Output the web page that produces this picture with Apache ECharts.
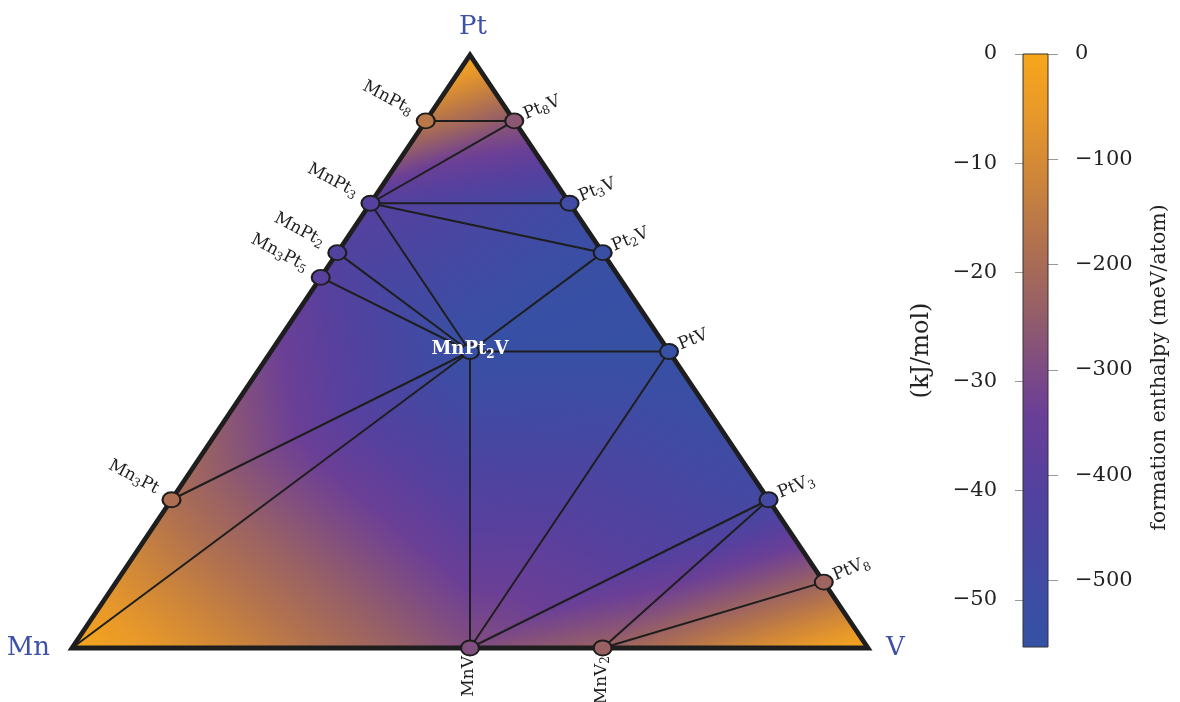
<!DOCTYPE html>
<html>
<head>
<meta charset="utf-8">
<title>Mn–Pt–V formation enthalpy</title>
<script src="https://cdn.jsdelivr.net/npm/echarts@6/dist/echarts.min.js"></script>
<style>
  html, body { margin: 0; padding: 0; background: #fff; }
  #chart { width: 1180px; height: 702px; }
</style>
</head>
<body>
<div id="chart"></div>
<script>
// ---- Ternary system: corner elements (pure elements sit at zero enthalpy) ----
const elements = ['Mn', 'Pt', 'V'];
const elementPt = [0, 1, 0];
const elementV = [0, 0, 1];

// ---- Stable compounds on the convex hull ----
const compounds = ['MnPt8', 'Pt8V', 'MnPt3', 'Pt3V', 'MnPt2', 'Mn3Pt5', 'Pt2V',
                   'MnPt2V', 'PtV', 'Mn3Pt', 'PtV3', 'PtV8', 'MnV', 'MnV2'];
const compoundLabels = ['MnPt₈', 'Pt₈V', 'MnPt₃', 'Pt₃V', 'MnPt₂', 'Mn₃Pt₅', 'Pt₂V',
                        'MnPt₂V', 'PtV', 'Mn₃Pt', 'PtV₃', 'PtV₈', 'MnV', 'MnV₂'];
// atomic fractions of Pt and V (Mn is the remainder)
const compoundPt = [8/9, 8/9, 3/4, 3/4, 2/3, 5/8, 2/3, 1/2, 1/2, 1/4, 1/4, 1/9, 0, 0];
const compoundV  = [0, 1/9, 0, 1/4, 0, 0, 1/3, 1/4, 1/2, 0, 3/4, 8/9, 1/2, 2/3];
// formation enthalpy, meV/atom
const compoundEnthalpy = [-160, -265, -405, -500, -420, -395, -540, -545, -555,
                          -190, -485, -225, -290, -235];

// ---- Hull facets (triangulation of the composition triangle) ----
const facets = [
  ['Pt', 'MnPt8', 'Pt8V'],
  ['MnPt8', 'Pt8V', 'MnPt3'],
  ['Pt8V', 'Pt3V', 'MnPt3'],
  ['MnPt3', 'Pt3V', 'Pt2V'],
  ['MnPt3', 'Pt2V', 'MnPt2V'],
  ['MnPt3', 'MnPt2V', 'MnPt2'],
  ['MnPt2', 'MnPt2V', 'Mn3Pt5'],
  ['Mn3Pt5', 'MnPt2V', 'Mn3Pt'],
  ['Mn3Pt', 'MnPt2V', 'Mn'],
  ['Mn', 'MnPt2V', 'MnV'],
  ['MnPt2V', 'Pt2V', 'PtV'],
  ['MnPt2V', 'PtV', 'MnV'],
  ['MnV', 'PtV', 'PtV3'],
  ['MnV', 'PtV3', 'MnV2'],
  ['MnV2', 'PtV3', 'PtV8'],
  ['MnV2', 'PtV8', 'V']
];

// ---- Tie lines between coexisting phases ----
const tieLines = [
  ['MnPt8', 'Pt8V'], ['Pt8V', 'MnPt3'], ['MnPt3', 'Pt3V'], ['MnPt3', 'Pt2V'],
  ['MnPt3', 'MnPt2V'], ['MnPt2', 'MnPt2V'], ['Mn3Pt5', 'MnPt2V'], ['Mn3Pt', 'MnPt2V'],
  ['Mn', 'MnPt2V'], ['MnV', 'MnPt2V'], ['Pt2V', 'MnPt2V'], ['PtV', 'MnPt2V'],
  ['PtV', 'MnV'], ['PtV3', 'MnV'], ['PtV3', 'MnV2'], ['PtV8', 'MnV2']
];

// ---- Colour scale ----
const scaleMin = -563;            // meV/atom at the bottom of the colour bar
const KJ_PER_MEV = 0.0964853;     // 1 meV/atom in kJ/mol
const meVTicks = [0, -100, -200, -300, -400, -500];
const kJTicks = [0, -10, -20, -30, -40, -50];
const cmapValues = [0, -60, -120, -180, -240, -300, -340, -400, -460, -520, -563];
const cmapColors = ['#f7a61b', '#e7982a', '#cd853a', '#b1714f', '#976066', '#7d4b84',
                    '#6b3f96', '#57409e', '#4946a1', '#3c4da4', '#3451a4'];

// ---------------------------------------------------------------------------
const SERIF = '"DejaVu Serif", "Liberation Serif", serif';
const INK = '#1e1e1e';

function hexToRgb(h) {
  const n = parseInt(h.slice(1), 16);
  return [(n >> 16) & 255, (n >> 8) & 255, n & 255];
}
const cmapRgb = cmapColors.map(hexToRgb);

function colorFor(value) {
  if (value >= cmapValues[0]) return cmapColors[0];
  for (let i = 1; i < cmapValues.length; i++) {
    if (value >= cmapValues[i]) {
      const a = cmapValues[i - 1], b = cmapValues[i];
      const t = (value - a) / (b - a);
      const c = cmapRgb[i - 1].map((v, k) => Math.round(v + (cmapRgb[i][k] - v) * t));
      return 'rgb(' + c.join(',') + ')';
    }
  }
  return cmapColors[cmapColors.length - 1];
}
const gradientStops = cmapValues.map((v, i) => ({ offset: v / scaleMin, color: cmapColors[i] }));

// ternary (Pt, V) -> cartesian (x along Mn–V edge, y towards Pt)
function toXY(pt, v) { return [v + pt / 2, pt]; }

// node table: elements + compounds
const nodes = {};
elements.forEach((name, i) => {
  nodes[name] = { xy: toXY(elementPt[i], elementV[i]), h: 0 };
});
compounds.forEach((name, i) => {
  nodes[name] = { xy: toXY(compoundPt[i], compoundV[i]), h: compoundEnthalpy[i] };
});

// ---- Series data ----
const facetData = facets.map(f => {
  const a = nodes[f[0]], b = nodes[f[1]], c = nodes[f[2]];
  return [a.xy[0], a.xy[1], b.xy[0], b.xy[1], c.xy[0], c.xy[1], a.h, b.h, c.h];
});
const tieData = tieLines.map(([p, q]) => [nodes[p].xy[0], nodes[p].xy[1], nodes[q].xy[0], nodes[q].xy[1]]);
const outline = elements.map(e => nodes[e].xy);
const pointData = compounds.map((name, i) => ({
  name: name,
  value: [nodes[name].xy[0], nodes[name].xy[1], compoundEnthalpy[i]],
  itemStyle: { color: colorFor(compoundEnthalpy[i]) }
}));

// label placement depends on which edge the compound sits on
function sideOf(i) {
  const pt = compoundPt[i], v = compoundV[i], mn = 1 - pt - v;
  if (v < 1e-9) return 'left';
  if (mn < 1e-9) return 'right';
  if (pt < 1e-9) return 'bottom';
  return 'center';
}
const labelData = compounds.map((name, i) => [nodes[name].xy[0], nodes[name].xy[1], i]);

// turn unicode subscript digits into rich-text subscript runs
const SUBS = '₀₁₂₃₄₅₆₇₈₉';
function richFormula(s) {
  let out = '';
  for (const ch of s) {
    const k = SUBS.indexOf(ch);
    out += k >= 0 ? '{s|' + k + '}' : '{m|' + ch.replace(/[{}|]/g, '') + '}';
  }
  return out;
}

// ---- Render helpers ----
function renderFacet(params, api) {
  const P = [0, 1, 2].map(k => api.coord([api.value(2 * k), api.value(2 * k + 1)]));
  const f = [api.value(6), api.value(7), api.value(8)];
  const d2 = [P[1][0] - P[0][0], P[1][1] - P[0][1]];
  const d3 = [P[2][0] - P[0][0], P[2][1] - P[0][1]];
  const df2 = f[1] - f[0], df3 = f[2] - f[0];
  const det = d2[0] * d3[1] - d2[1] * d3[0];
  const gx = (df2 * d3[1] - df3 * d2[1]) / det;
  const gy = (d2[0] * df3 - d3[0] * df2) / det;
  const g2 = gx * gx + gy * gy;
  let fill;
  if (g2 < 1e-12) {
    fill = colorFor(f[0]);
  } else {
    // the enthalpy is linear on a facet, so a linear gradient along its
    // gradient direction reproduces the colour map exactly
    const s0 = (0 - f[0]) / g2, s1 = (scaleMin - f[0]) / g2;
    fill = {
      type: 'linear', global: true,
      x: P[0][0] + s0 * gx, y: P[0][1] + s0 * gy,
      x2: P[0][0] + s1 * gx, y2: P[0][1] + s1 * gy,
      colorStops: gradientStops
    };
  }
  return {
    type: 'polygon', silent: true,
    shape: { points: P },
    style: { fill: fill, stroke: fill, lineWidth: 0.8 }
  };
}

function renderTie(params, api) {
  const a = api.coord([api.value(0), api.value(1)]);
  const b = api.coord([api.value(2), api.value(3)]);
  return {
    type: 'line', silent: true,
    shape: { x1: a[0], y1: a[1], x2: b[0], y2: b[1] },
    style: { stroke: INK, lineWidth: 2 }
  };
}

function renderOutline(params, api) {
  if (params.dataIndex !== 0) return null;
  const pts = outline.map(p => api.coord(p));
  return {
    type: 'polygon', silent: true,
    shape: { points: pts },
    style: { fill: 'none', stroke: INK, lineWidth: 4.8, lineJoin: 'miter', miterLimit: 10 }
  };
}

function labelStyle(i, color, size, weight) {
  return {
    text: richFormula(compoundLabels[i]),
    rich: {
      m: { fontFamily: SERIF, fontSize: size, fontWeight: weight, fill: color, lineHeight: size + 4, verticalAlign: 'middle' },
      s: { fontFamily: SERIF, fontSize: Math.round(size * 0.68), fontWeight: weight, fill: color,
           lineHeight: Math.round(size * 0.68), verticalAlign: 'bottom' }
    }
  };
}

function renderLabel(params, api) {
  const i = api.value(2);
  const p = api.coord([api.value(0), api.value(1)]);
  const side = sideOf(i);
  if (side === 'left') {
    return { type: 'text', silent: true, x: p[0] - 14, y: p[1] - 10, rotation: -28 * Math.PI / 180,
             style: Object.assign(labelStyle(i, INK, 17, 'normal'), { align: 'right', verticalAlign: 'middle' }) };
  }
  if (side === 'right') {
    return { type: 'text', silent: true, x: p[0] + 10, y: p[1] - 6, rotation: 22 * Math.PI / 180,
             style: Object.assign(labelStyle(i, INK, 17, 'normal'), { align: 'left', verticalAlign: 'middle' }) };
  }
  if (side === 'bottom') {
    return { type: 'text', silent: true, x: p[0] - 1, y: p[1] + 8, rotation: Math.PI / 2,
             style: Object.assign(labelStyle(i, INK, 17, 'normal'), { align: 'right', verticalAlign: 'middle' }) };
  }
  return { type: 'text', silent: true, x: p[0], y: p[1] - 2,
           style: Object.assign(labelStyle(i, '#ffffff', 18, 'bold'), { align: 'center', verticalAlign: 'middle' }) };
}

function renderCorner(params, api) {
  const i = params.dataIndex;
  const p = api.coord([api.value(0), api.value(1)]);
  const style = { text: elements[i], fontFamily: SERIF, fontSize: 26, fill: '#3e51a8' };
  if (elements[i] === 'Mn') {
    return { type: 'text', silent: true, x: p[0] - 22, y: p[1],
             style: Object.assign(style, { align: 'right', verticalAlign: 'middle' }) };
  }
  if (elements[i] === 'V') {
    return { type: 'text', silent: true, x: p[0] + 18, y: p[1],
             style: Object.assign(style, { align: 'left', verticalAlign: 'middle' }) };
  }
  return { type: 'text', silent: true, x: p[0] + 3, y: p[1] - 15,
           style: Object.assign(style, { align: 'center', verticalAlign: 'bottom' }) };
}

function renderColorbar(params, api) {
  const top = api.coord([0, 0]);
  const bot = api.coord([1, scaleMin]);
  return {
    type: 'rect', silent: true,
    shape: { x: top[0], y: top[1], width: bot[0] - top[0], height: bot[1] - top[1] },
    style: {
      fill: { type: 'linear', x: 0, y: 0, x2: 0, y2: 1, colorStops: gradientStops },
      stroke: '#333', lineWidth: 1
    }
  };
}

const minus = v => String(v).replace('-', '\u2212');

const chart = echarts.init(document.getElementById('chart'), null, { renderer: 'canvas' });
chart.setOption({
  animation: false,
  backgroundColor: '#ffffff',
  grid: [
    { left: 72, right: 312, top: 55, bottom: 54 },
    { left: 1023, width: 25, top: 54, bottom: 55 }
  ],
  xAxis: [
    { type: 'value', gridIndex: 0, min: 0, max: 1, show: false },
    { type: 'value', gridIndex: 1, min: 0, max: 1, show: false }
  ],
  yAxis: [
    { type: 'value', gridIndex: 0, min: 0, max: 1, show: false },
    {
      type: 'value', gridIndex: 1, position: 'left',
      min: scaleMin * KJ_PER_MEV, max: 0,
      axisLine: { show: false }, splitLine: { show: false },
      axisTick: { show: true, length: 8, customValues: kJTicks, lineStyle: { color: '#999', width: 1 } },
      axisLabel: { customValues: kJTicks, formatter: minus, margin: 26,
                   fontFamily: SERIF, fontSize: 21, color: '#222' },
      name: '(kJ/mol)', nameLocation: 'middle', nameRotate: 90, nameGap: 89,
      nameTextStyle: { fontFamily: SERIF, fontSize: 24, color: '#222' }
    },
    {
      type: 'value', gridIndex: 1, position: 'right',
      min: scaleMin, max: 0,
      axisLine: { show: false }, splitLine: { show: false },
      axisTick: { show: true, length: 10, customValues: meVTicks, lineStyle: { color: '#999', width: 1 } },
      axisLabel: { customValues: meVTicks, formatter: minus, margin: 27,
                   fontFamily: SERIF, fontSize: 21, color: '#222' },
      name: 'formation enthalpy (meV/atom)', nameLocation: 'middle', nameRotate: 90, nameGap: 101,
      nameTextStyle: { fontFamily: SERIF, fontSize: 20.5, color: '#222', padding: [0, 34, 0, 0] }
    }
  ],
  series: [
    { type: 'custom', name: 'facets', xAxisIndex: 0, yAxisIndex: 0, z: 1, clip: false,
      renderItem: renderFacet, data: facetData, encode: { x: [0, 2, 4], y: [1, 3, 5] } },
    { type: 'custom', name: 'tie lines', xAxisIndex: 0, yAxisIndex: 0, z: 2, clip: false,
      renderItem: renderTie, data: tieData, encode: { x: [0, 2], y: [1, 3] } },
    { type: 'custom', name: 'outline', xAxisIndex: 0, yAxisIndex: 0, z: 3, clip: false,
      renderItem: renderOutline, data: outline },
    { type: 'scatter', name: 'compounds', xAxisIndex: 0, yAxisIndex: 0, z: 4,
      symbol: 'circle', symbolSize: [18, 15],
      itemStyle: { borderColor: INK, borderWidth: 2, opacity: 1 },
      data: pointData, silent: true },
    { type: 'custom', name: 'labels', xAxisIndex: 0, yAxisIndex: 0, z: 5, clip: false,
      renderItem: renderLabel, data: labelData },
    { type: 'custom', name: 'corners', xAxisIndex: 0, yAxisIndex: 0, z: 5, clip: false,
      renderItem: renderCorner, data: outline },
    { type: 'custom', name: 'colorbar', xAxisIndex: 1, yAxisIndex: 2, z: 1, clip: false,
      renderItem: renderColorbar, data: [[0, 0]] }
  ]
});
</script>
</body>
</html>
